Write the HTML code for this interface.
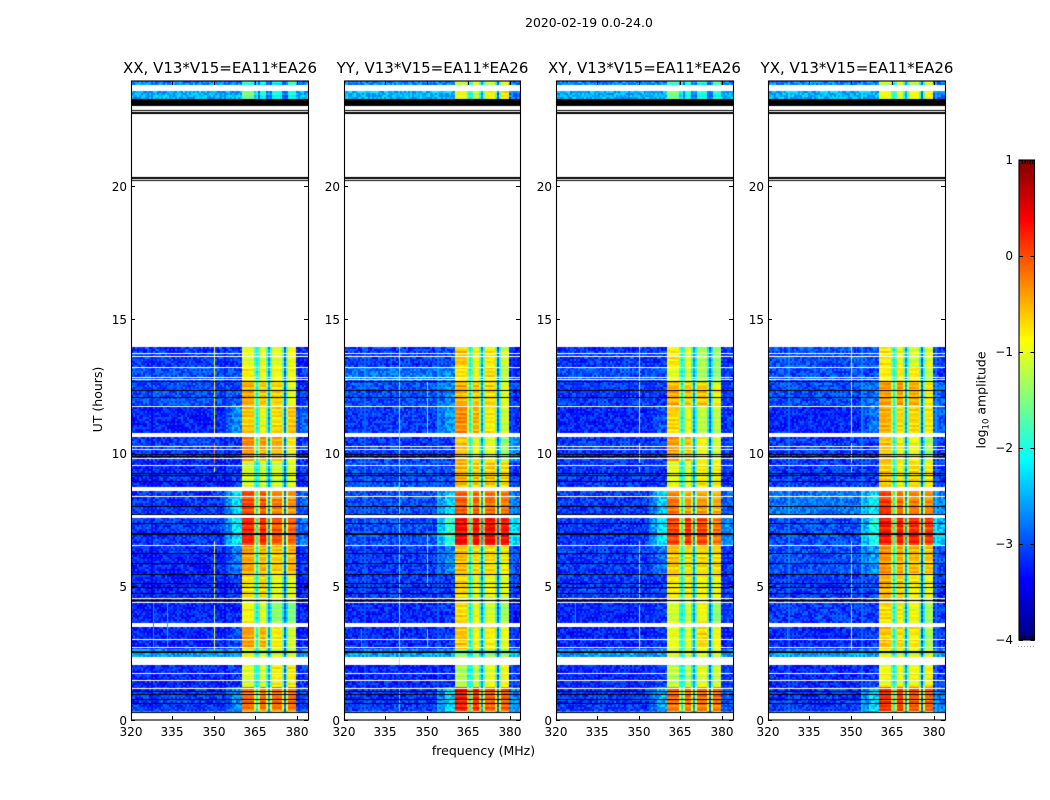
<!DOCTYPE html>
<html>
<head>
<meta charset="utf-8">
<title>Spectrogram panels</title>
<style>
html,body{margin:0;padding:0;background:#fff;}
#stage{position:relative;width:1050px;height:800px;overflow:hidden;background:#fff;font-family:"DejaVu Sans","Liberation Sans",sans-serif;}
canvas{position:absolute;display:block;}
svg{position:absolute;left:0;top:0;}
text{font-family:"DejaVu Sans","Liberation Sans",sans-serif;fill:#000;}
</style>
</head>
<body>
<div id="stage">
  <canvas id="heat0" width="177" height="639" style="left:131px;top:81px"></canvas>
  <canvas id="heat1" width="176" height="639" style="left:344px;top:81px"></canvas>
  <canvas id="heat2" width="177" height="639" style="left:556px;top:81px"></canvas>
  <canvas id="heat3" width="177" height="639" style="left:768px;top:81px"></canvas>
  <canvas id="cbar" width="15" height="480" style="left:1019px;top:160px"></canvas>
  <svg id="overlay" width="1050" height="800">
    <text x="589" y="27" text-anchor="middle" font-size="12.4">2020-02-19 0.0-24.0</text>
    <text x="220" y="73" text-anchor="middle" font-size="15">XX, V13*V15=EA11*EA26</text>
    <text x="432.5" y="73" text-anchor="middle" font-size="15">YY, V13*V15=EA11*EA26</text>
    <text x="644.5" y="73" text-anchor="middle" font-size="15">XY, V13*V15=EA11*EA26</text>
    <text x="857" y="73" text-anchor="middle" font-size="15">YX, V13*V15=EA11*EA26</text>
    <text x="483.5" y="755" text-anchor="middle" font-size="12.5">frequency (MHz)</text>
    <text transform="translate(102,399.5) rotate(-90)" text-anchor="middle" font-size="12.5">UT (hours)</text>
    <text transform="translate(985.5,400) rotate(-90)" text-anchor="middle" font-size="12.5">log<tspan font-size="8.5" dy="3">10</tspan><tspan dy="-3"> amplitude</tspan></text>
  </svg>
</div>
<script>
// ---- chart data ----
const panelLefts = [131, 344, 556, 768];
const panelWidths = [177, 176, 177, 177];
const panelNames = ['xx', 'yy', 'xy', 'yx'];
const xTicks = [320, 335, 350, 365, 380];
const yTicks = [0, 5, 10, 15, 20];
const colorbarTicks = [1, 0, -1, -2, -3, -4];
const colorbarLabels = ['1', '0', '\u22121', '\u22122', '\u22123', '\u22124'];

// time segments [startHour, endHour]
const segmentHours = [
  [23.78,23.95],[23.25,23.52],[13.20,13.97],[12.70,13.20],[11.76,12.70],[10.75,11.76],
  [9.70,10.58],[8.69,9.70],[7.63,8.52],[6.55,7.54],[5.40,6.55],[4.40,5.40],
  [3.63,4.40],[2.60,3.44],[2.35,2.60],[1.17,2.05],[0.28,1.17],[0.19,0.28]
];
// log10 amplitude per segment: background, shoulder, block1..block4, right edge
const xxLevels = [
  [-2.7,-2.7,-1.9,-2.0,-2.1,-1.8,-2.7],[-2.5,-2.5,-1.5,-2.0,-2.0,-2.0,-2.5],
  [-3.1,-3.1,-1.0,-1.0,-1.0,-0.9,-3.2],[-3.0,-3.0,-0.8,-0.9,-0.9,-0.9,-3.1],
  [-3.0,-3.0,-0.5,-0.6,-0.7,-1.0,-3.1],[-3.2,-2.7,-0.6,-0.9,-0.7,-0.6,-2.9],
  [-3.1,-3.1,-0.3,-0.4,-0.5,-0.8,-3.1],[-3.2,-3.1,-1.1,-1.1,-1.1,-1.0,-3.1],
  [-3.1,-2.3,0.05,-0.05,-0.25,-0.35,-2.9],[-3.1,-2.2,0.2,0.2,-0.05,-0.1,-2.8],
  [-3.2,-2.8,-0.4,-0.5,-0.6,-0.5,-3.1],[-3.2,-3.1,-0.8,-0.7,-1.0,-1.0,-3.2],
  [-3.2,-3.2,-0.9,-1.0,-1.4,-1.5,-3.2],[-3.2,-3.0,-0.4,-0.5,-0.8,-1.1,-3.2],
  [-2.6,-2.6,-1.0,-1.1,-1.1,-1.0,-2.6],[-3.2,-3.1,-1.1,-1.1,-0.85,-0.8,-3.1],
  [-3.1,-2.7,-0.2,-0.2,-0.2,-0.2,-3.0],[-2.6,-2.6,-1.3,-1.3,-1.3,-1.3,-2.6]
];
const yyLevels = [
  [-2.7,-2.7,-1.2,-1.0,-1.2,-1.0,-2.8],[-2.5,-2.5,-1.0,-1.2,-0.9,-0.8,-2.8],
  [-3.1,-3.0,-0.6,-0.9,-0.8,-1.1,-3.3],[-2.8,-2.7,-0.8,-0.9,-0.7,-1.2,-3.2],
  [-3.0,-2.7,-0.5,-0.6,-0.7,-1.0,-3.1],[-3.1,-2.6,-0.3,-0.5,-0.8,-1.1,-3.2],
  [-3.1,-3.1,-0.6,-0.9,-1.0,-1.4,-2.7],[-3.0,-3.0,-0.5,-0.6,-0.6,-0.7,-3.1],
  [-3.0,-2.3,-0.05,-0.1,-0.15,-0.2,-2.8],[-3.0,-1.9,0.35,0.35,0.35,0.3,-2.3],
  [-3.1,-2.7,-0.55,-0.7,-0.7,-0.8,-3.0],[-3.1,-3.1,-0.7,-0.9,-0.9,-1.0,-3.1],
  [-3.2,-3.1,-0.7,-0.9,-1.1,-1.3,-3.3],[-3.2,-3.1,-0.6,-0.9,-0.85,-1.0,-3.2],
  [-2.6,-2.6,-1.3,-1.3,-1.3,-1.3,-2.5],[-3.2,-3.2,-1.3,-1.2,-1.0,-0.9,-3.1],
  [-3.1,-2.3,0.25,0.15,-0.1,-0.1,-2.7],[-2.6,-2.6,-1.3,-1.3,-1.3,-1.3,-2.6]
];
const xyLevels = [
  [-2.7,-2.7,-1.9,-2.0,-2.1,-1.8,-2.7],[-2.5,-2.5,-1.5,-2.0,-2.0,-2.0,-2.5],
  [-3.1,-3.1,-0.8,-1.0,-1.3,-1.4,-3.1],[-3.0,-3.0,-1.0,-1.1,-1.3,-1.4,-3.1],
  [-3.1,-3.1,-0.5,-0.6,-0.6,-0.9,-3.1],[-3.2,-3.0,-0.7,-0.9,-1.2,-1.2,-3.1],
  [-3.1,-3.1,-0.4,-0.6,-0.9,-1.1,-3.1],[-3.1,-3.1,-1.0,-1.0,-0.8,-0.8,-3.1],
  [-3.1,-2.4,-0.2,-0.4,-0.4,-0.5,-2.9],[-3.1,-2.2,0.05,0.15,0.05,-0.2,-2.7],
  [-3.1,-2.8,-0.6,-0.7,-0.7,-0.7,-3.1],[-3.1,-3.1,-0.8,-0.8,-0.9,-0.9,-3.1],
  [-3.2,-3.1,-1.1,-1.1,-0.9,-1.4,-3.1],[-3.2,-3.1,-1.0,-1.0,-0.7,-0.9,-3.2],
  [-2.6,-2.6,-1.1,-1.1,-1.1,-1.1,-2.6],[-3.2,-3.1,-1.2,-1.2,-1.0,-1.1,-3.1],
  [-3.1,-2.5,-0.2,-0.2,-0.2,-0.2,-2.9],[-2.6,-2.6,-1.3,-1.3,-1.3,-1.3,-2.6]
];
const yxLevels = [
  [-2.7,-2.7,-1.2,-1.0,-1.2,-1.0,-2.8],[-2.5,-2.5,-1.0,-1.1,-1.0,-0.9,-2.8],
  [-3.0,-3.0,-0.8,-0.9,-1.1,-1.0,-3.1],[-3.0,-3.0,-0.85,-0.8,-0.8,-1.2,-3.1],
  [-3.0,-2.8,-0.4,-0.4,-0.5,-0.8,-2.9],[-3.2,-2.8,-0.5,-0.7,-0.7,-0.8,-2.9],
  [-3.1,-3.1,-0.6,-0.8,-0.9,-1.3,-3.1],[-3.1,-3.1,-0.6,-0.8,-0.7,-0.8,-3.1],
  [-2.8,-2.2,0.1,-0.15,-0.25,-0.3,-2.7],[-3.0,-2.0,0.25,0.25,0.2,0.1,-2.4],
  [-3.0,-2.6,-0.35,-0.45,-0.55,-0.6,-3.0],[-3.1,-3.0,-0.5,-0.6,-0.8,-0.9,-3.1],
  [-3.1,-3.1,-0.7,-0.8,-0.9,-1.3,-3.1],[-3.2,-3.1,-0.6,-0.7,-0.8,-1.3,-3.1],
  [-2.6,-2.6,-1.0,-1.0,-1.0,-1.0,-2.6],[-3.2,-3.1,-0.9,-0.9,-0.85,-0.8,-3.1],
  [-3.1,-2.3,0.1,0.05,-0.1,-0.15,-2.8],[-2.6,-2.6,-1.3,-1.3,-1.3,-1.3,-2.6]
];
// notch level at the three gaps between the blocks
const notchLevels = [-2.1, -2.6, -2.9];
// how far the channels beside a notch drop below their block level
const notchFlankDrop = [0.8];
// band blocks in MHz
const blockStarts = [360.5, 365.9, 370.3, 376.0];
const blockEnds = [365.4, 369.9, 375.5, 380];
// fixed small scatter around the block levels
const cellGrain = [0.10,-0.27,0.19,-0.07,0.28,-0.20,0.04,-0.30,0.24,-0.12,0.14,-0.24,0.32,-0.04,-0.16,0.22,0.02,-0.28,0.12,-0.09,0.26,-0.19,0.07,-0.26,0.18,-0.03,-0.22,0.30,-0.14,0.09,-0.31,0.21,-0.06,0.15,-0.17,0.27,-0.10];
const rowGrain = [0.15,-0.2,0.3,-0.05,-0.3,0.2,0.05,-0.15,0.35,-0.25,0.1,0.0,-0.35,0.25,-0.1,0.2,-0.2,0.3,-0.3,0.05,0.15,-0.05,0.1];
// narrow vertical features: [MHz, startHour, endHour, level]
const xxLines = [[350,10.74,13.97,-0.9],[350,9.61,10.36,-0.2],[350,9.28,9.46,-0.9],[350,4.55,6.69,-1.0],[350,3.62,4.29,-1.4],[350,2.6,3.47,-0.9],[328,2.7,4.4,-2.6],[333,2.7,4.4,-2.5]];
const yyLines = [[340,2.05,13.97,-1.6],[340,0.3,1.17,-1.8],[350,10.75,12.7,-1.6],[350,5.0,7.0,-1.6],[350,2.7,3.4,-1.8],[326,2.7,3.4,-2.6]];
const xyLines = [[350,10.74,13.97,-1.1],[350,9.61,10.36,-0.9],[350,9.28,9.46,-1.1],[350,4.55,6.69,-1.2],[350,3.62,4.29,-1.5],[350,2.6,3.47,-1.1],[327,3.6,4.4,-2.6]];
const yxLines = [[350,10.74,13.97,-1.1],[350,9.61,10.36,-0.9],[350,9.28,9.46,-1.1],[350,4.55,6.69,-1.2],[350,3.62,4.29,-1.5],[350,2.6,3.47,-1.1],[327,3.0,3.4,-2.6]];
// flagged data: hours of thin lines and [start,end] bands
const whiteLineHours = [13.75,13.62,13.20,12.83,12.75,11.76,10.25,10.13,9.79,9.53,8.39,6.55,4.54,4.40,3.01,2.71,1.73,1.48,1.17];
const whiteBands = [[7.54,7.63],[0.01,0.19]];
const blackLineHours = [12.68,12.34,12.08,9.95,9.88,9.25,9.18,8.93,8.0,7.36,7.0,6.95,6.23,5.85,5.45,5.1,4.95,4.73,4.48,1.07,0.96,0.63,0.27];
const blackBands = [[22.99,23.25],[22.81,22.85],[22.71,22.76],[20.25,20.32],[20.17,20.21],[7.66,7.72],[2.50,2.56],[0.73,0.78]];

// ---- scales ----
const allLevels = [xxLevels, yyLevels, xyLevels, yxLevels];
const allLines = [xxLines, yyLines, xyLines, yxLines];
const PANEL_W = 177, TOP = 81, BOTTOM = 720, X_MIN = 320, X_MAX = 384;
const CHANNELS = 89, ROWS = 320, ROW_H = 0.075;
function xScale(f) { return (f - X_MIN) * PANEL_W / (X_MAX - X_MIN); }
function yScale(h) { return 719.5 - 26.68 * h; }
function cbScale(v) { return 640 - (v + 4) * 96; }
function jet(v) {
  const t = Math.max(0, Math.min(1, (v + 4) / 5));
  const c = function (o) { return Math.round(255 * Math.max(0, Math.min(1, 1.5 - Math.abs(4 * t - o)))); };
  return 'rgb(' + c(3) + ',' + c(2) + ',' + c(1) + ')';
}
function channelLevel(row, f) {
  if (f >= blockEnds[3]) return row[6];
  for (let i = 0; i < 4; i++) {
    if (f >= blockStarts[i] && f < blockEnds[i]) return row[2 + i];
    if (i < 3 && f >= blockEnds[i] && f < blockStarts[i + 1]) return null;
  }
  if (f >= 357) return row[1];
  if (f >= 354) return row[0] + (row[1] - row[0]) * 0.5;
  return row[0];
}
function notchIndex(f) {
  for (let i = 0; i < 3; i++) if (f >= blockEnds[i] && f < blockStarts[i + 1]) return i;
  return -1;
}

// ---- heatmaps ----
panelNames.forEach(function (name, p) {
  const ctx = document.getElementById('heat' + p).getContext('2d');
  const levels = allLevels[p];
  const df = (X_MAX - X_MIN) / CHANNELS;
  function hLine(yPx, hPx) { ctx.fillRect(0, Math.round(yPx) - TOP, PANEL_W, hPx); }
  function hBand(b) {
    const y0 = Math.round(yScale(b[1]));
    const y1 = Math.round(yScale(b[0]));
    ctx.fillRect(0, y0 - TOP, PANEL_W, Math.max(1, y1 - y0));
  }
  for (let r = 0; r < ROWS; r++) {
    const h = (r + 0.5) * ROW_H;
    let seg = -1;
    segmentHours.forEach(function (s, i) { if (h >= s[0] && h < s[1]) seg = i; });
    if (seg < 0) continue;
    const y1 = Math.round(yScale(r * ROW_H)) - TOP;
    const y0 = Math.round(yScale((r + 1) * ROW_H)) - TOP;
    for (let c = 0; c < CHANNELS; c++) {
      const f = X_MIN + (c + 0.5) * df;
      let v = channelLevel(levels[seg], f);
      const inBand = f >= blockStarts[0] && f < blockEnds[3];
      if (v === null) {
        v = notchLevels[notchIndex(f)];
      } else if (inBand && (notchIndex(f - df) >= 0 || notchIndex(f + df) >= 0)) {
        v -= notchFlankDrop[0];
      }
      const g = cellGrain[(c * c + r * 7 + c * r * 3 + p * 5) % cellGrain.length];
      const rg = rowGrain[(r + p * 3) % rowGrain.length];
      v += inBand ? g * 0.2 + rg * 0.6 : g;
      ctx.fillStyle = jet(v);
      const x0 = Math.round(xScale(X_MIN + c * df));
      const x1 = Math.round(xScale(X_MIN + (c + 1) * df));
      ctx.fillRect(x0, y0, x1 - x0, y1 - y0);
    }
  }
  allLines[p].forEach(function (l) {
    ctx.fillStyle = jet(l[3]);
    const y0 = Math.round(yScale(l[2])) - TOP;
    const y1 = Math.round(yScale(l[1])) - TOP;
    ctx.fillRect(Math.round(xScale(l[0])), y0, 1, y1 - y0);
  });
  ctx.fillStyle = '#fff';
  whiteLineHours.forEach(function (h) { hLine(yScale(h), 1); });
  whiteBands.forEach(hBand);
  ctx.fillStyle = '#000';
  blackLineHours.forEach(function (h) { hLine(yScale(h), 1); });
  blackBands.forEach(hBand);
});

// ---- colorbar gradient ----
(function () {
  const ctx = document.getElementById('cbar').getContext('2d');
  for (let i = 0; i < 480; i++) {
    ctx.fillStyle = jet(1 - (i + 0.5) / 96);
    ctx.fillRect(0, i, 15, 1);
  }
})();

// ---- axes overlay ----
const NS = 'http://www.w3.org/2000/svg';
const svg = document.getElementById('overlay');
function line(x1, y1, x2, y2) {
  const el = document.createElementNS(NS, 'line');
  el.setAttribute('x1', x1); el.setAttribute('y1', y1);
  el.setAttribute('x2', x2); el.setAttribute('y2', y2);
  el.setAttribute('stroke', '#000'); el.setAttribute('stroke-width', '1');
  
  
  svg.appendChild(el);
  return el;
}
function label(x, y, txt, anchor) {
  const el = document.createElementNS(NS, 'text');
  el.setAttribute('x', x); el.setAttribute('y', y);
  el.setAttribute('text-anchor', anchor); el.setAttribute('font-size', '12');
  
  
  el.textContent = txt;
  svg.appendChild(el);
}
function frame(x, y, w, h, name) {
  const el = document.createElementNS(NS, 'rect');
  el.setAttribute('x', x); el.setAttribute('y', y);
  el.setAttribute('width', w); el.setAttribute('height', h);
  el.setAttribute('fill', 'none'); el.setAttribute('stroke', '#000'); el.setAttribute('stroke-width', '1.1');
  
  
  svg.appendChild(el);
}
panelLefts.forEach(function (left, p) {
  const w = panelWidths[p];
  frame(left + 0.5, TOP, w, BOTTOM - TOP, panelNames[p] + '-axes-frame');
  xTicks.forEach(function (t) {
    const x = Math.round(left + xScale(t)) + 0.5;
    line(x, BOTTOM, x, BOTTOM - 4);
    line(x, TOP, x, TOP + 4);
    label(x - 0.5, 736, String(t), 'middle');
  });
  yTicks.forEach(function (t) {
    const y = Math.round(yScale(t)) + 0.5;
    line(left, y, left + 4, y);
    line(left + w, y, left + w - 4, y);
    label(left - 4, y + 4.5, String(t), 'end');
  });
});
frame(1019, 160, 15.5, 480, 'colorbar-frame');
colorbarTicks.forEach(function (v, i) {
  const y = Math.round(cbScale(v)) + 0.5;
  line(1019, y, 1023, y);
  line(1034.5, y, 1030.5, y);
  label(1013, cbScale(v) + 4, colorbarLabels[i], 'end');
});
for (let i = 0; i < 5; i++) {
  const x = 1022.5 + i * 2.5;
  line(x, 160, x, 164);
  line(x, 640, x, 636);
}
for (let i = 0; i < 6; i++) {
  const dot = document.createElementNS(NS, 'rect');
  dot.setAttribute('x', 1018 + i * 3); dot.setAttribute('y', 646);
  dot.setAttribute('width', 1); dot.setAttribute('height', 1);
  dot.setAttribute('fill', '#999');
  
  
  svg.appendChild(dot);
}
</script>
</body>
</html>
